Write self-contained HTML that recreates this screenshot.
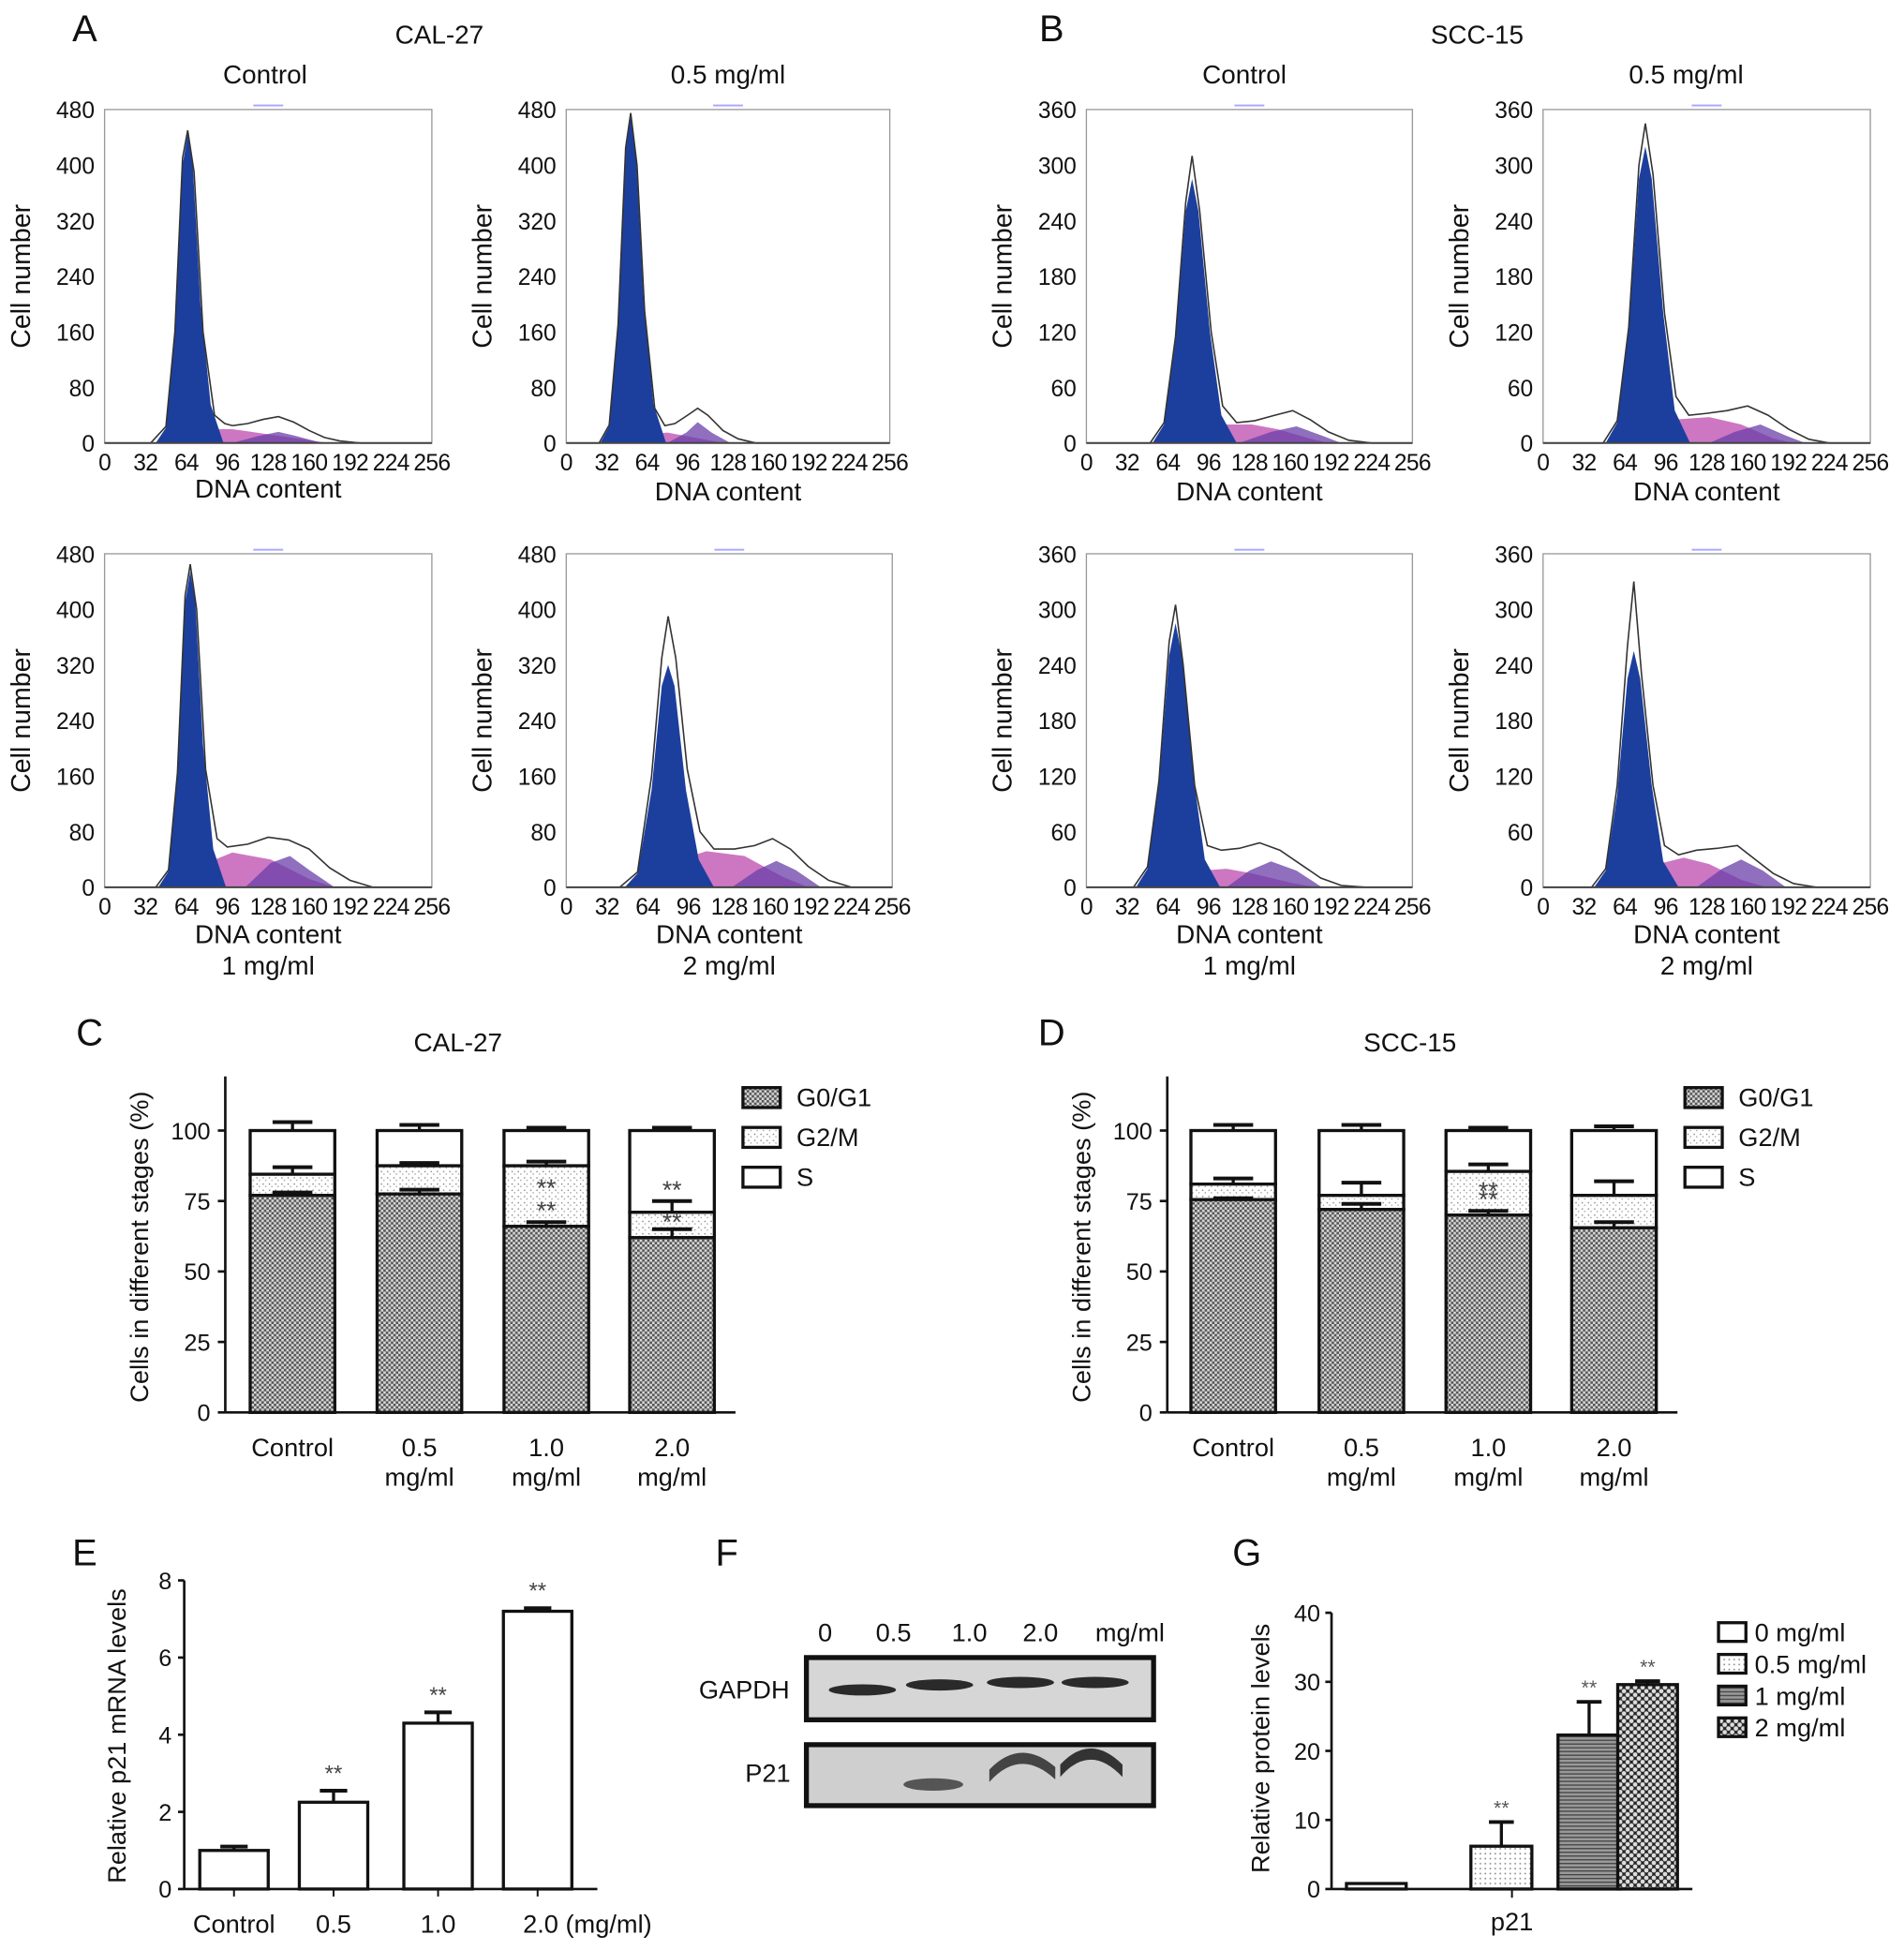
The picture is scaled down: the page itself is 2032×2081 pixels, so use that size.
<!DOCTYPE html>
<html><head><meta charset="utf-8"><style>
html,body{margin:0;padding:0;background:#fff}
svg{display:block;font-family:"Liberation Sans",Arial,sans-serif}
</style></head><body>
<svg id="fig" width="2032" height="2081" viewBox="0 0 1530 1567" xmlns="http://www.w3.org/2000/svg">
<defs>
<pattern id="pG1" width="4" height="4" patternUnits="userSpaceOnUse"><rect width="4" height="4" fill="#d8d8d8"/><rect width="2" height="2" fill="#555"/><rect x="2" y="2" width="2" height="2" fill="#555"/></pattern>
<pattern id="pG2" width="5" height="5" patternUnits="userSpaceOnUse"><rect width="5" height="5" fill="#fff"/><rect x="1" y="1" width="1" height="1" fill="#777"/><rect x="3" y="3" width="1" height="1" fill="#999"/></pattern>
<pattern id="pDot" width="4" height="4" patternUnits="userSpaceOnUse"><rect width="4" height="4" fill="#fff"/><rect x="1" y="1" width="1.2" height="1.2" fill="#888"/></pattern>
<pattern id="pLine" width="4" height="3" patternUnits="userSpaceOnUse"><rect width="4" height="3" fill="#999"/><rect width="4" height="1" fill="#444"/></pattern>
<pattern id="pCheck" width="6" height="6" patternUnits="userSpaceOnUse"><rect width="6" height="6" fill="#222"/><circle cx="3" cy="3" r="1.8" fill="#ddd"/><circle cx="0" cy="0" r="1.8" fill="#ddd"/><circle cx="6" cy="6" r="1.8" fill="#ddd"/><circle cx="6" cy="0" r="1.8" fill="#ddd"/><circle cx="0" cy="6" r="1.8" fill="#ddd"/></pattern>
</defs>
</svg>
<script>
// ---------- Histogram data (channel, count) ----------
const a1_g1=[[40,0],[48,22],[55,155],[61,400],[65,445],[69,400],[75,200],[83,55],[93,0]];
const a1_s=[[60,0],[80,20],[100,20],[130,12],[160,4],[175,0]];
const a1_g2=[[100,0],[120,10],[136,16],[150,10],[170,0]];
const a1_tot=[[0,0],[36,0],[48,24],[55,160],[61,410],[65,450],[70,390],[77,160],[86,40],[94,28],[100,25],[112,28],[124,34],[136,38],[148,30],[160,18],[172,8],[184,3],[200,0],[256,0]];
const a2_g1=[[27,0],[34,24],[41,165],[47,420],[51,470],[55,420],[61,210],[69,56],[79,0]];
const a2_s=[[40,0],[60,12],[80,15],[95,10],[110,5],[125,0]];
const a2_g2=[[80,0],[95,15],[104,30],[115,15],[130,0]];
const a2_tot=[[0,0],[26,0],[34,26],[41,170],[47,425],[51,475],[56,400],[62,190],[70,50],[78,25],[86,28],[96,40],[104,50],[112,40],[124,18],[136,6],[150,0],[256,0]];
const a3_g1=[[42,0],[50,23],[57,160],[63,410],[67,455],[71,410],[77,205],[85,55],[95,0]];
const a3_s=[[60,0],[80,35],[100,50],[130,40],[160,12],[180,0]];
const a3_g2=[[110,0],[130,35],[145,45],[160,25],[180,0]];
const a3_tot=[[0,0],[40,0],[50,25],[57,165],[63,420],[67,465],[72,400],[79,170],[88,70],[96,58],[112,62],[128,72],[144,68],[160,55],[176,28],[192,10],[210,0],[256,0]];
const a4_g1=[[46,0],[56,20],[67,140],[75,290],[80,320],[85,290],[94,140],[104,40],[116,0]];
const a4_s=[[70,0],[90,40],[110,52],[140,45],[170,15],[190,0]];
const a4_g2=[[130,0],[150,25],[165,38],[180,25],[200,0]];
const a4_tot=[[0,0],[42,0],[56,22],[67,160],[75,330],[80,390],[86,330],[95,170],[105,80],[116,55],[132,55],[148,60],[162,70],[176,55],[190,30],[206,10],[224,0],[256,0]];
const b1_g1=[[52,0],[61,20],[70,110],[78,250],[83,285],[88,250],[97,120],[106,30],[118,0]];
const b1_s=[[80,0],[100,20],[130,20],[150,15],[175,5],[190,0]];
const b1_g2=[[120,0],[145,12],[165,18],[185,8],[200,0]];
const b1_tot=[[0,0],[50,0],[61,22],[70,115],[78,260],[83,310],[89,250],[98,120],[107,40],[118,22],[132,24],[148,30],[162,35],[176,25],[190,12],[206,3],[224,0],[256,0]];
const b2_g1=[[49,0],[58,22],[67,120],[75,285],[80,320],[85,285],[94,140],[103,35],[115,0]];
const b2_s=[[80,0],[100,25],[130,28],[155,20],[180,5],[195,0]];
const b2_g2=[[130,0],[150,12],[170,20],[190,8],[205,0]];
const b2_tot=[[0,0],[47,0],[58,24],[67,125],[75,300],[80,345],[86,290],[95,140],[104,50],[114,30],[128,32],[144,35],[160,40],[176,30],[192,15],[208,4],[224,0],[256,0]];
const b3_g1=[[39,0],[48,20],[57,110],[65,250],[70,285],[75,250],[84,120],[93,30],[105,0]];
const b3_s=[[70,0],[90,18],[110,20],[130,15],[160,5],[180,0]];
const b3_g2=[[110,0],[128,18],[145,28],[165,18],[185,0]];
const b3_tot=[[0,0],[37,0],[48,22],[57,115],[65,265],[70,305],[76,240],[85,110],[95,45],[106,40],[120,42],[136,48],[152,40],[168,25],[184,10],[200,2],[220,0],[256,0]];
const b4_g1=[[40,0],[49,18],[58,100],[66,225],[71,255],[76,225],[85,110],[94,28],[106,0]];
const b4_s=[[70,0],[90,25],[110,32],[130,25],[155,8],[175,0]];
const b4_g2=[[120,0],[140,20],[155,30],[172,18],[190,0]];
const b4_tot=[[0,0],[38,0],[49,20],[58,110],[66,260],[71,330],[77,230],[86,110],[95,45],[106,35],[120,40],[136,42],[152,45],[166,30],[180,15],[196,4],[214,0],[256,0]];
const xTicksHist=[0,32,64,96,128,160,192,224,256];
const yTicksA=[0,80,160,240,320,400,480];
const yTicksB=[0,60,120,180,240,300,360];

// ---------- Stacked bar data ----------
const stageCats=["Control","0.5","1.0","2.0"];
const c_g1=[77,77.5,66,62];
const c_g2=[7.5,10,21.5,9];
const c_g1err=[1,1.5,1.5,3];
const c_g2err=[2.5,1,1.5,4];
const c_serr=[3,2,1,1];
const d_g1=[75.5,72,70,65.5];
const d_g2=[5.5,5,15.5,11.5];
const d_g1err=[0.5,2,1.5,2];
const d_g2err=[2,4.5,2.5,5];
const d_serr=[2,2,1,1.5];
const stageTicks=[0,25,50,75,100];

// ---------- E ----------
const eCats=["Control","0.5","1.0","2.0 (mg/ml)"];
const eVals=[1.0,2.25,4.3,7.2];
const eErr=[0.1,0.3,0.28,0.08];
const eTicks=[0,2,4,6,8];
// ---------- G ----------
const gCats=["0 mg/ml","0.5 mg/ml","1 mg/ml","2 mg/ml"];
const gVals=[0.8,6.2,22.3,29.6];
const gErr=[0,3.5,4.8,0.5];
const gTicks=[0,10,20,30,40];

const NS="http://www.w3.org/2000/svg";
const svg=document.getElementById('fig');
function el(tag,attrs,parent){const e=document.createElementNS(NS,tag);for(const k in attrs)e.setAttribute(k,attrs[k]);(parent||svg).appendChild(e);return e;}
function txt(x,y,s,size,anchor,parent,extra){const t=el('text',Object.assign({x:x,y:y,'font-size':size,'text-anchor':anchor||'middle',fill:'#111'},extra||{}),parent);t.textContent=s;return t;}

function hist(name,x0,x1,yTop,yBot,ymax,yTicks,g1,s,g2,tot,xlabelY,caption){
  const g=el('g',{});
  
  
  const xs=v=>x0+(x1-x0)*v/256, ys=v=>yBot-(yBot-yTop)*v/ymax;
  const poly=(arr,fill,op,nm)=>{const p=el('polygon',{points:arr.map(d=>xs(d[0])+','+ys(d[1])).join(' '),fill:fill,'fill-opacity':op},g);
    };
  poly(s,'#c45fb8',0.85,'s-phase-area');
  poly(g2,'#6a3fa8',0.75,'g2-phase-area');
  poly(g1,'#1c3f9e',1,'g1-phase-area');
  const l=el('polyline',{points:tot.map(d=>xs(d[0])+','+ys(d[1])).join(' '),fill:'none',stroke:'#333','stroke-width':1.2},g);
  
  el('rect',{x:x0,y:yTop,width:x1-x0,height:yBot-yTop,fill:'none',stroke:'#999','stroke-width':1},g);
  el('line',{x1:x0,y1:yBot,x2:x1,y2:yBot,stroke:'#444','stroke-width':1.5},g);
  el('rect',{x:(x0+x1)/2-12,y:yTop-4,width:24,height:1.5,fill:'#aaf'},g);
  yTicks.forEach(v=>{const t=txt(x0-8,ys(v)+7,String(v),18.5,'end',g);});
  xTicksHist.forEach(v=>{const t=txt(xs(v),yBot+22,String(v),18.5,'middle',g,{'letter-spacing':'-0.5'});});
  const xl=txt((x0+x1)/2,xlabelY,'DNA content',21,'middle',g);
  
  const yl=txt(0,0,'Cell number',21.5,'middle',g,{transform:`translate(${x0-60},${(yTop+yBot)/2}) rotate(-90)`});
  
  if(caption){const c=txt((x0+x1)/2,xlabelY+25,caption,21,'middle',g);}
}
hist('hist-cal27-control',84,347,88,356,480,yTicksA,a1_g1,a1_s,a1_g2,a1_tot,400,null);
hist('hist-cal27-0.5',455,715,88,356,480,yTicksA,a2_g1,a2_s,a2_g2,a2_tot,402,null);
hist('hist-cal27-1',84,347,445,713,480,yTicksA,a3_g1,a3_s,a3_g2,a3_tot,758,'1 mg/ml');
hist('hist-cal27-2',455,717,445,713,480,yTicksA,a4_g1,a4_s,a4_g2,a4_tot,758,'2 mg/ml');
hist('hist-scc15-control',873,1135,88,356,360,yTicksB,b1_g1,b1_s,b1_g2,b1_tot,402,null);
hist('hist-scc15-0.5',1240,1503,88,356,360,yTicksB,b2_g1,b2_s,b2_g2,b2_tot,402,null);
hist('hist-scc15-1',873,1135,445,713,360,yTicksB,b3_g1,b3_s,b3_g2,b3_tot,758,'1 mg/ml');
hist('hist-scc15-2',1240,1503,445,713,360,yTicksB,b4_g1,b4_s,b4_g2,b4_tot,758,'2 mg/ml');

function label(x,y,s,size,name){const t=txt(x,y,s,size,'middle');}
label(68,33,'A',30,'panel-label-a');label(845,33,'B',30,'panel-label-b');
label(353,35,'CAL-27',21,'title-cal27');label(1187,35,'SCC-15',21,'title-scc15');
label(213,67,'Control',21,'title-control-a');label(585,67,'0.5 mg/ml',21,'title-05-a');
label(1000,67,'Control',21,'title-control-b');label(1355,67,'0.5 mg/ml',21,'title-05-b');
label(72,840,'C',30,'panel-label-c');label(845,840,'D',30,'panel-label-d');
label(368,845,'CAL-27',21,'title-c');label(1133,845,'SCC-15',21,'title-d');
label(68,1258,'E',30,'panel-label-e');label(584,1258,'F',30,'panel-label-f');label(1002,1258,'G',30,'panel-label-g');

function errBar(g,x,yv,yt,w){el('line',{x1:x,y1:yv,x2:x,y2:yt,stroke:'#111','stroke-width':2.5},g);el('line',{x1:x-w,y1:yt,x2:x+w,y2:yt,stroke:'#111','stroke-width':3},g);}

function stacked(name,axX,centers,g1,g2,g1e,g2e,se,stars1,stars2,legX){
  const g=el('g',{});
  const yBot=1135,per=2.265,ys=v=>yBot-v*per,bw=68;
  el('line',{x1:axX,y1:865,x2:axX,y2:yBot,stroke:'#111','stroke-width':2},g);
  el('line',{x1:axX,y1:yBot,x2:axX+410,y2:yBot,stroke:'#111','stroke-width':2},g);
  stageTicks.forEach(v=>{el('line',{x1:axX-6,y1:ys(v),x2:axX,y2:ys(v),stroke:'#111','stroke-width':2},g);
    const t=txt(axX-12,ys(v)+7,String(v),19,'end',g);});
  const yl=txt(0,0,'Cells in different stages (%)',20.5,'middle',g,{transform:`translate(${axX-62},1002) rotate(-90)`});
  
  centers.forEach((c,i)=>{
    const x=c-bw/2;
    const top2=g1[i]+g2[i];
    const r3=el('rect',{x:x,y:ys(100),width:bw,height:ys(top2)-ys(100),fill:'#fff',stroke:'#111','stroke-width':2.5},g);
    
    const r2=el('rect',{x:x,y:ys(top2),width:bw,height:ys(g1[i])-ys(top2),fill:'url(#pG2)',stroke:'#111','stroke-width':2.5},g);
    
    const r1=el('rect',{x:x,y:ys(g1[i]),width:bw,height:ys(0)-ys(g1[i]),fill:'url(#pG1)',stroke:'#111','stroke-width':2.5},g);
    
    errBar(g,c,ys(100),ys(100+se[i]),16);
    errBar(g,c,ys(top2),ys(top2+g2e[i]),16);
    errBar(g,c,ys(g1[i]),ys(g1[i]+g1e[i]),16);
    if(stars1[i]){const t=txt(c,ys(g1[i])-6,'**',20,'middle',g,{fill:'#444'});}
    if(stars2[i]){const t=txt(c,ys(top2+g2e[i])+ (i===3?-2:28),'**',20,'middle',g,{fill:'#444'});}
    const cat=stageCats[i];
    if(i===0){const t=txt(c,1170,cat,20.5,'middle',g);}
    else{const t=txt(c,1170,cat,20.5,'middle',g);
      const t2=txt(c,1194,'mg/ml',20.5,'middle',g);}
  });
  const legs=[['G0/G1','url(#pG1)'],['G2/M','url(#pG2)'],['S','#fff']];
  legs.forEach((L,i)=>{const y=874+i*32;
    const r=el('rect',{x:legX,y:y,width:30,height:16,fill:L[1],stroke:'#111','stroke-width':2.5},g);
    
    const t=txt(legX+43,y+15,L[0],20.5,'start',g);});
}
stacked('stage-chart-cal27',181,[235,337,439,540],c_g1,c_g2,c_g1err,c_g2err,c_serr,[0,0,1,1],[0,0,1,1],597);
stacked('stage-chart-scc15',938,[991,1094,1196,1297],d_g1,d_g2,d_g1err,d_g2err,d_serr,[0,0,1,0],[0,0,1,0],1354);

// E chart
(function(){
  const g=el('g',{});
  const axX=148,yBot=1518,per=31,ys=v=>yBot-v*per,centers=[188,268,352,432],bw=55;
  el('line',{x1:axX,y1:ys(8),x2:axX,y2:yBot,stroke:'#111','stroke-width':2},g);
  el('line',{x1:axX,y1:yBot,x2:480,y2:yBot,stroke:'#111','stroke-width':2},g);
  eTicks.forEach(v=>{el('line',{x1:axX-5,y1:ys(v),x2:axX,y2:ys(v),stroke:'#111','stroke-width':2},g);
    const t=txt(axX-10,ys(v)+7,String(v),19,'end',g);});
  const yl=txt(0,0,'Relative p21 mRNA levels',20.5,'middle',g,{transform:`translate(101,1395) rotate(-90)`});
  
  eVals.forEach((v,i)=>{const c=centers[i];
    errBar(g,c,ys(v),ys(v+eErr[i]),11);
    const r=el('rect',{x:c-bw/2,y:ys(v),width:bw,height:ys(0)-ys(v),fill:'#fff',stroke:'#111','stroke-width':2.5},g);
    
    if(i>0){const t=txt(c,ys(v+eErr[i])-8,'**',18,'middle',g,{fill:'#444'});}
    el('line',{x1:c,y1:yBot,x2:c,y2:yBot+6,stroke:'#111','stroke-width':1.5},g);
    const t=txt(i===3?c+40:c,1553,eCats[i],20.5,'middle',g);
  });
})();

// F blot
(function(){
  const g=el('g',{});
  [['0',663],['0.5',718],['1.0',779],['2.0',836],['mg/ml',908]].forEach(L=>{const t=txt(L[1],1319,L[0],20.5,'middle',g);});
  const b1=el('rect',{x:648,y:1332,width:279,height:50,fill:'#d6d6d6',stroke:'#111','stroke-width':4},g);
  const b2=el('rect',{x:648,y:1402,width:279,height:49,fill:'#cfcfcf',stroke:'#111','stroke-width':4},g);
  [[693,1358],[755,1354],[820,1352],[880,1352]].forEach(b=>el('ellipse',{cx:b[0],cy:b[1],rx:27,ry:4.5,fill:'#2a2a2a'},g));
  el('ellipse',{cx:750,cy:1434,rx:24,ry:5,fill:'#555'},g);
  el('path',{d:'M795,1432 Q820,1404 848,1430 L848,1420 Q820,1396 795,1422Z',fill:'#444'},g);
  el('path',{d:'M852,1428 Q876,1400 902,1428 L902,1418 Q876,1392 852,1418Z',fill:'#333'},g);
  const t1=txt(598,1365,'GAPDH',20.5,'middle',g);
  const t2=txt(617,1432,'P21',20.5,'middle',g);
})();

// G chart
(function(){
  const g=el('g',{});
  const axX=1070,yBot=1518,per=5.55,ys=v=>yBot-v*per;
  const xs=[[1082,1130],[1182,1231],[1252,1302],[1300,1348]];
  const fills=['#fff','url(#pDot)','url(#pLine)','url(#pCheck)'];
  el('line',{x1:axX,y1:ys(40),x2:axX,y2:yBot,stroke:'#111','stroke-width':2},g);
  el('line',{x1:axX,y1:yBot,x2:1360,y2:yBot,stroke:'#111','stroke-width':2},g);
  el('line',{x1:1215,y1:yBot,x2:1215,y2:yBot+7,stroke:'#111','stroke-width':1.5},g);
  gTicks.forEach(v=>{el('line',{x1:axX-5,y1:ys(v),x2:axX,y2:ys(v),stroke:'#111','stroke-width':2},g);
    const t=txt(axX-9,ys(v)+7,String(v),19,'end',g);});
  const yl=txt(0,0,'Relative protein levels',20.5,'middle',g,{transform:`translate(1020,1405) rotate(-90)`});
  
  gVals.forEach((v,i)=>{const c=(xs[i][0]+xs[i][1])/2;
    if(gErr[i]>0)errBar(g,c,ys(v),ys(v+gErr[i]),10);
    const r=el('rect',{x:xs[i][0],y:ys(v),width:xs[i][1]-xs[i][0],height:ys(0)-ys(v),fill:fills[i],stroke:'#111','stroke-width':2.5},g);
    
    if(i>0){const t=txt(c,ys(v+gErr[i])-6,'**',16,'middle',g,{fill:'#555'});}
  });
  const xl=txt(1215,1551,'p21',20.5,'middle',g);
  gCats.forEach((c,i)=>{const y=1304+i*25.5;
    const r=el('rect',{x:1381,y:y,width:22,height:15,fill:fills[i],stroke:'#111','stroke-width':2.5},g);
    const t=txt(1410,y+15,c,20.5,'start',g);});
})();
</script>
</body></html>
